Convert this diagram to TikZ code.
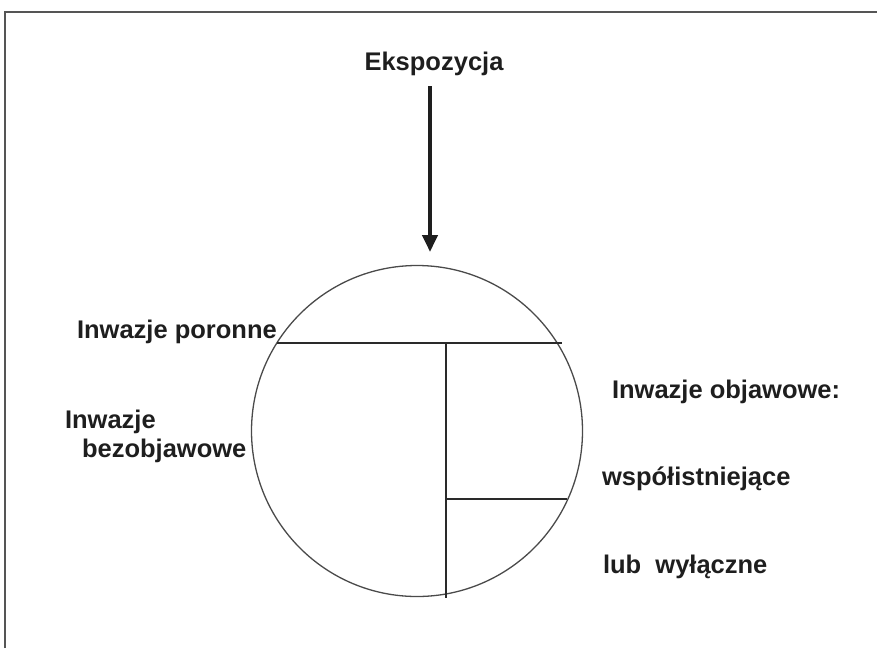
\documentclass[tikz,border=0pt]{standalone}
\usepackage{fontspec}
\setmainfont{Liberation Sans}
\usetikzlibrary{arrows.meta}
\definecolor{ink}{HTML}{1E1E1E}
\definecolor{linec}{HTML}{2A2A2A}
\definecolor{framec}{HTML}{555555}
\tikzset{
  lbl/.style={inner sep=0pt, outer sep=0pt, anchor=base west, text=ink,
    font=\fontsize{25.5}{28}\selectfont\bfseries},
  divline/.style={draw=linec, line width=1.5pt},
}
\begin{document}
\begin{tikzpicture}[x=1pt,y=-1pt]
\useasboundingbox (0,0) rectangle (877,648);
% partial frame
\coordinate (fb) at (5,648);
\coordinate (ft) at (5,12);
\coordinate (fr) at (877,12);
\draw[framec, line width=1.6pt] (fb) -- (ft) -- (fr);
% title and arrow
\node[lbl, anchor=base] (eks) at (434,70) {Ekspozycja};
\coordinate (atip) at (430,252);
\draw[ink, line width=4pt, -{Triangle[width=15pt,length=17pt]}] (430,86) coordinate (astart) -- (atip);
% circle
\node[circle, draw=linec!85, line width=1.3pt, minimum size=331pt, inner sep=0pt] (c) at (417,431) {};
% divisions
\coordinate (h1w) at (277,343);
\coordinate (h1e) at (562,343);
\coordinate (vt) at (446,343);
\coordinate (vb) at (446,598);
\coordinate (h2w) at (446,499);
\coordinate (h2e) at (567,499);
\draw[divline] (h1w) -- (h1e);
\draw[divline] (vt) -- (vb);
\draw[divline] (h2w) -- (h2e);
% labels
\node[lbl] (por) at (77,338) {Inwazje poronne};
\node[lbl] (bez1) at (65,428) {Inwazje};
\node[lbl] (bez2) at (82,457) {bezobjawowe};
\node[lbl] (obj) at (612,398) {Inwazje objawowe:};
\node[lbl] (wsp) at (602,485) {współistniejące};
\node[lbl] (wyl) at (603,573) {lub\ \ wyłączne};
\end{tikzpicture}
\end{document}
